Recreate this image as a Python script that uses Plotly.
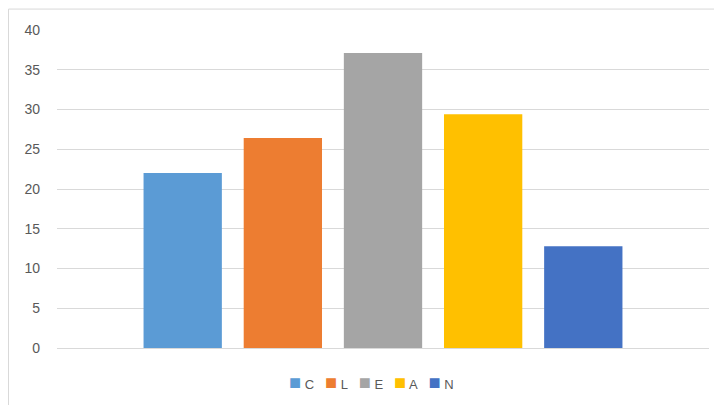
import plotly.graph_objects as go

series_names = ["C", "L", "E", "A", "N"]
series_values = [22.0, 26.4, 37.1, 29.4, 12.8]
series_colors = ["#5B9BD5", "#ED7D31", "#A5A5A5", "#FFC000", "#4472C4"]
y_ticks = [0, 5, 10, 15, 20, 25, 30, 35, 40]

ML, MT, PW, PH = 49, 21.5, 652, 319
W, H = 722, 405

fig = go.Figure()
for name, val, col in zip(series_names, series_values, series_colors):
    fig.add_trace(go.Bar(x=[""], y=[val], name=name, showlegend=False,
                         marker=dict(color=col, line=dict(width=0))))

# Excel-style legend as real text: coloured square + series name
legend_text = "&nbsp;&nbsp;&nbsp;".join(
    f"<span style='color:{c};font-size:20px'>■</span> {n}" for n, c in zip(series_names, series_colors)
)

fig.update_layout(
    width=W, height=H,
    margin=dict(l=ML, r=W - ML - PW, t=MT, b=H - MT - PH, autoexpand=False),
    paper_bgcolor="white", plot_bgcolor="white",
    barmode="group", bargap=0.232, bargroupgap=0.218,
    font=dict(family="Liberation Sans, Arial", size=14, color="#595959"),
    showlegend=False,
    xaxis=dict(showticklabels=False, showgrid=False, zeroline=False, showline=False, ticks=""),
    yaxis=dict(range=[0, 40], tickvals=y_ticks, showgrid=True, gridcolor="#d9d9d9", gridwidth=1,
               zeroline=True, zerolinecolor="#d9d9d9", zerolinewidth=1, showline=False,
               ticks="", ticklabelstandoff=16, automargin=False,
               tickfont=dict(size=14, color="#595959")),
    annotations=[dict(text=legend_text, xref="paper", yref="paper",
                      x=(363 - ML) / PW, y=-0.108, xanchor="center", yanchor="middle",
                      showarrow=False, font=dict(size=13, color="#595959"))],
    shapes=[dict(type="rect", xref="paper", yref="paper",
                 x0=(0.5 - ML) / PW, x1=(W + 20 - ML) / PW,
                 y0=-(H - MT - PH + 20) / PH, y1=1 + (MT - 0.5) / PH,
                 line=dict(color="#d9d9d9", width=1), fillcolor="rgba(0,0,0,0)", layer="below")],
)

fig.write_html("out.html")
